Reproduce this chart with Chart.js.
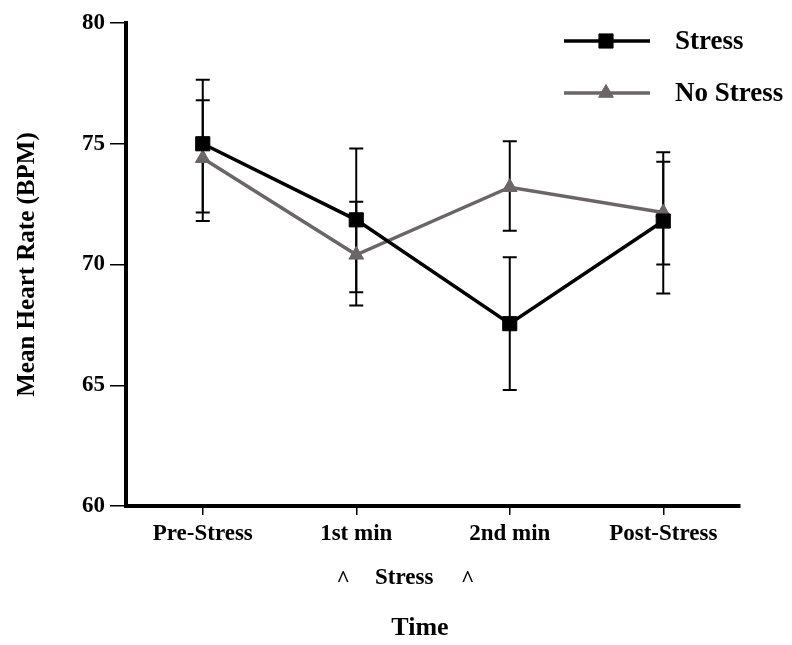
<!DOCTYPE html>
<html>
<head>
<meta charset="utf-8">
<script src="https://cdn.jsdelivr.net/npm/chart.js@4/dist/chart.umd.min.js"></script>
<style>
  html, body { margin: 0; padding: 0; background: #fff; }
  #wrap { width: 792px; height: 645px; }
</style>
</head>
<body>
<div id="wrap"><canvas id="chart"></canvas></div>
<script>
const timeLabels = ['Pre-Stress', '1st min', '2nd min', 'Post-Stress'];

const stressMean = [75.0, 71.85, 67.55, 71.8];
const stressUpper = [77.65, 74.8, 70.3, 74.65];
const stressLower = [72.15, 68.85, 64.8, 68.8];

const noStressMean = [74.4, 70.4, 73.2, 72.15];
const noStressUpper = [76.8, 72.6, 75.1, 74.25];
const noStressLower = [71.8, 68.3, 71.4, 70.0];

const yTicks = [60, 65, 70, 75, 80];

const BLACK = '#000000';
const GREY = '#6b6567';
const FONT = '"Liberation Serif", "Times New Roman", serif';

const errorBars = {
    id: 'errorBars',
    beforeDatasetsDraw(chart) {
        const ctx = chart.ctx;
        const x = chart.scales.x;
        const y = chart.scales.y;
        const sets = [
            [stressUpper, stressLower],
            [noStressUpper, noStressLower],
        ];
        ctx.save();
        ctx.strokeStyle = BLACK;
        ctx.lineWidth = 2;
        sets.forEach(([upper, lower]) => {
            upper.forEach((hi, i) => {
                const px = x.getPixelForValue(i);
                const top = y.getPixelForValue(hi);
                const bottom = y.getPixelForValue(lower[i]);
                ctx.beginPath();
                ctx.moveTo(px, top);
                ctx.lineTo(px, bottom);
                ctx.moveTo(px - 7, top);
                ctx.lineTo(px + 7, top);
                ctx.moveTo(px - 7, bottom);
                ctx.lineTo(px + 7, bottom);
                ctx.stroke();
            });
        });
        ctx.restore();
    },
};

// legend with line sample + marker, and the "^ Stress ^" note under the axis
const extras = {
    id: 'extras',
    afterDraw(chart) {
        const ctx = chart.ctx;
        const x = chart.scales.x;
        ctx.save();

        chart.data.datasets.forEach((ds, i) => {
            const ly = 41 + i * 52;
            ctx.strokeStyle = ds.borderColor;
            ctx.lineWidth = 3.5;
            ctx.beginPath();
            ctx.moveTo(564, ly);
            ctx.lineTo(650, ly);
            ctx.stroke();
            ctx.fillStyle = ds.pointBackgroundColor;
            ctx.strokeStyle = ds.borderColor;
            ctx.lineWidth = 1;
            Chart.helpers.drawPoint(ctx, {
                pointStyle: ds.pointStyle,
                radius: ds.pointRadius,
                borderWidth: 1,
                rotation: 0,
            }, 606, ly);

            ctx.fillStyle = BLACK;
            ctx.font = 'bold 27px ' + FONT;
            ctx.textAlign = 'left';
            ctx.textBaseline = 'middle';
            ctx.fillText(ds.label, 675, ly + 1);
        });

        ctx.font = 'bold 23px ' + FONT;
        ctx.textAlign = 'center';
        ctx.textBaseline = 'middle';
        const p1 = x.getPixelForValue(1);
        const p2 = x.getPixelForValue(2);
        ctx.fillText('^', p1 - 13, 580);
        ctx.fillText('Stress', p1 + 48, 578);
        ctx.fillText('^', p2 - 42, 580);
        ctx.restore();
    },
};

new Chart(document.getElementById('chart'), {
    type: 'line',
    data: {
        labels: timeLabels,
        datasets: [
            {
                label: 'Stress',
                data: stressMean,
                borderColor: BLACK,
                backgroundColor: BLACK,
                pointBackgroundColor: BLACK,
                borderWidth: 3.5,
                pointStyle: 'rect',
                pointRadius: 10,
                pointBorderWidth: 1,
                tension: 0,
            },
            {
                label: 'No Stress',
                data: noStressMean,
                borderColor: GREY,
                backgroundColor: GREY,
                pointBackgroundColor: GREY,
                borderWidth: 3.5,
                pointStyle: 'triangle',
                pointRadius: 8.5,
                pointBorderWidth: 1,
                tension: 0,
            },
        ],
    },
    plugins: [errorBars, extras],
    options: {
        responsive: true,
        maintainAspectRatio: false,
        animation: false,
        events: [],
        layout: {
            padding: { top: 23, right: 52, left: 0, bottom: 0 },
        },
        plugins: {
            legend: { display: false },
            tooltip: { enabled: false },
        },
        scales: {
            x: {
                offset: true,
                afterFit: (scale) => { scale.height = 139; },
                grid: {
                    offset: false,
                    drawOnChartArea: false,
                    drawTicks: true,
                    tickLength: 9,
                    color: BLACK,
                    lineWidth: 1.5,
                },
                border: { display: true, color: BLACK, width: 4 },
                ticks: {
                    color: BLACK,
                    padding: 5,
                    maxRotation: 0,
                    font: { family: FONT, size: 23, weight: 'bold' },
                },
                title: {
                    display: true,
                    text: 'Time    ',
                    color: BLACK,
                    padding: { top: 0, bottom: 1 },
                    font: { family: FONT, size: 26, weight: 'bold' },
                },
            },
            y: {
                min: 60,
                max: 80,
                afterFit: (scale) => { scale.width = 126; },
                afterBuildTicks: (scale) => {
                    scale.ticks = yTicks.map((v) => ({ value: v }));
                },
                grid: {
                    drawOnChartArea: false,
                    drawTicks: true,
                    tickLength: 16,
                    color: BLACK,
                    lineWidth: 1.5,
                },
                border: { display: true, color: BLACK, width: 4 },
                ticks: {
                    color: BLACK,
                    padding: 5,
                    font: { family: FONT, size: 23, weight: 'bold' },
                },
                title: {
                    display: true,
                    text: 'Mean Heart Rate (BPM)',
                    color: BLACK,
                    padding: { top: 13, bottom: 0 },
                    font: { family: FONT, size: 25, weight: 'bold' },
                },
            },
        },
    },
});
</script>
</body>
</html>
